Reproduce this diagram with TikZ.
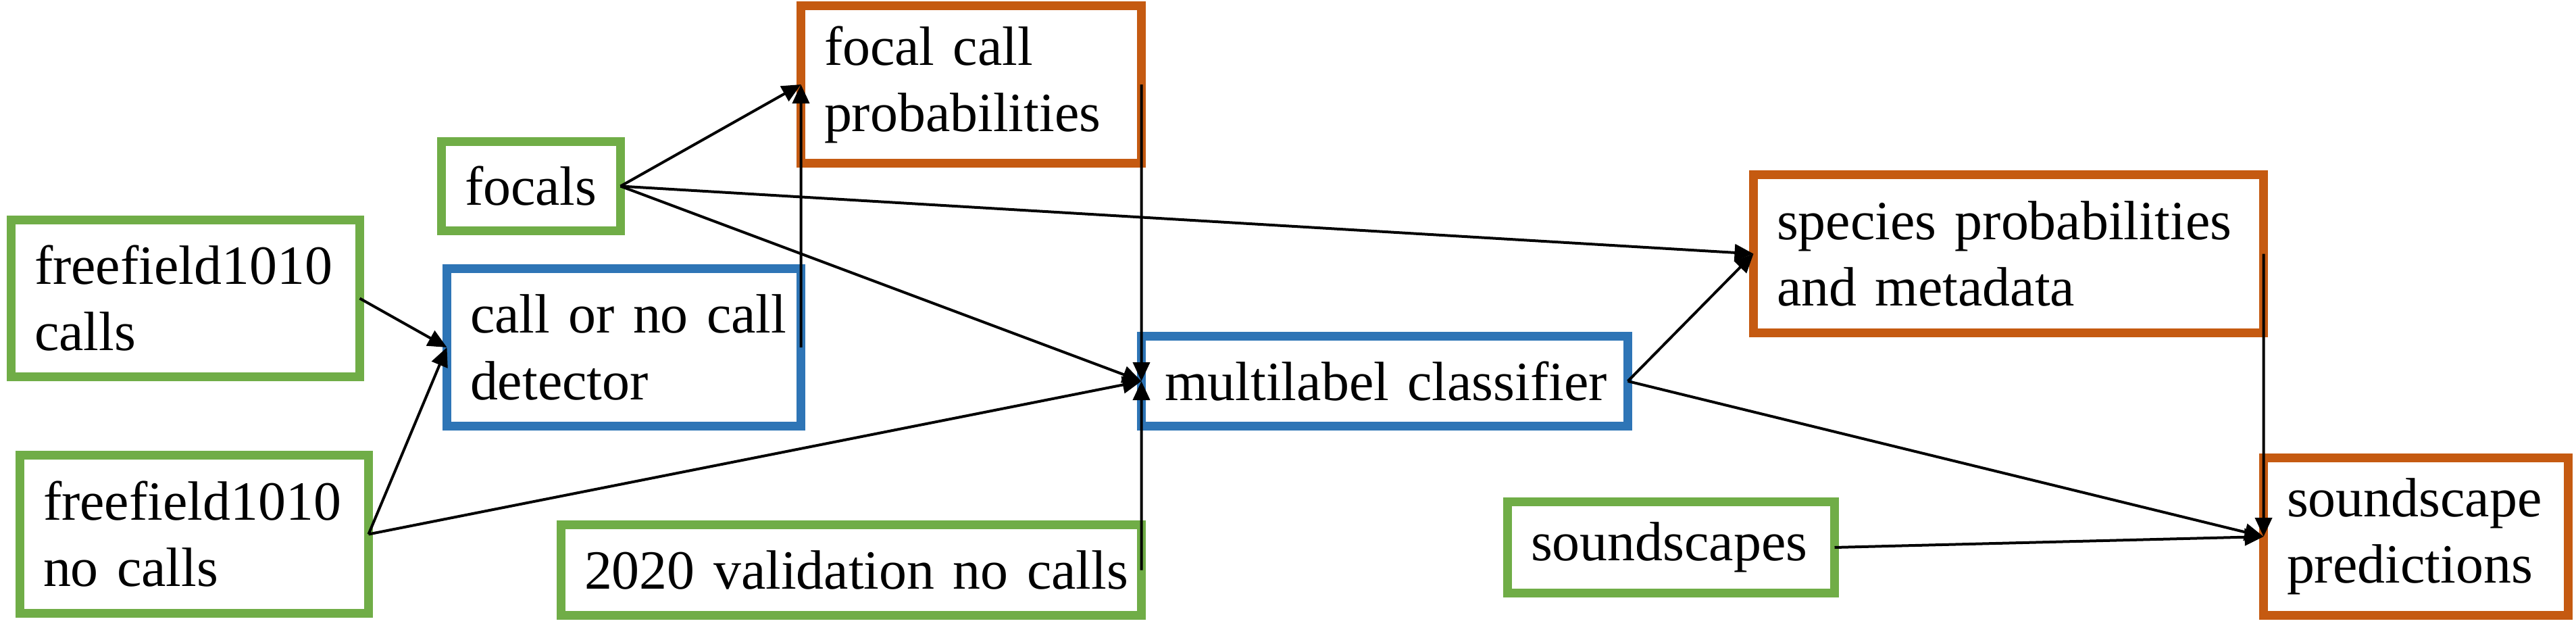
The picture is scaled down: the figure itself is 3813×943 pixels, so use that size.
\documentclass[tikz,border=0pt]{standalone}
\usepackage{fontspec}
\setmainfont{Liberation Serif}
\usetikzlibrary{arrows.meta}
\definecolor{boxgreen}{HTML}{70AD47}
\definecolor{boxblue}{HTML}{2E75B6}
\definecolor{boxorange}{HTML}{C55A11}
\begin{document}
\begin{tikzpicture}[x=0.1mm,y=-0.1mm,
  box/.style={draw, rectangle, line width=1.3mm, outer sep=0pt, inner xsep=3.45mm, inner ysep=0pt,
    align=left, font=\fontsize{23.3}{27.9}\selectfont},
  gbox/.style={box, draw=boxgreen},
  bbox/.style={box, draw=boxblue},
  obox/.style={box, draw=boxorange},
  arr/.style={line width=0.4mm, -{Triangle[length=2.8mm,width=2.5mm]}}]
\useasboundingbox (0,0) rectangle (3813,943);
\node[gbox, text width=44.7mm, minimum height=23.2mm] (ffcalls) at (274.5,441.5) {\mbox{freefield1010}\\calls};
\node[gbox, text width=44.7mm, minimum height=23.4mm] (ffnocalls) at (287.5,790.5) {\mbox{freefield1010}\\no calls};
\node[gbox, text width=19.6mm, minimum height=13.2mm] (focals) at (786,275.5) {focals};
\node[bbox, text width=45.5mm, minimum height=23.3mm] (det) at (923.5,514) {\mbox{call or no call}\\detector};
\node[obox, text width=43.5mm, minimum height=23.3mm] (fcp) at (1437.5,125) {focal call\\probabilities};
\node[gbox, text width=79.0mm, minimum height=13.4mm] (val) at (1260,843.5) {\mbox{2020 validation no calls}};
\node[bbox, text width=65.1mm, minimum height=13.3mm] (mlc) at (2049.5,564) {\mbox{multilabel classifier}};
\node[obox, text width=68.6mm, minimum height=23.4mm] (species) at (2973,375.5) {\mbox{species probabilities}\\and metadata};
\node[gbox, text width=41.5mm, minimum height=13.5mm] (sounds) at (2473.5,810) {soundscapes};
\node[obox, text width=38.2mm, minimum height=23.3mm] (preds) at (3576,794) {\mbox{soundscape}\\predictions};
\draw[arr] (ffcalls.east) -- (det.west);
\draw[arr] (ffnocalls.east) -- (det.west);
\draw[arr] (ffnocalls.east) -- (mlc.west);
\draw[arr] (focals.east) -- (fcp.west);
\draw[arr] (focals.east) -- (mlc.west);
\draw[arr] (focals.east) -- (species.west);
\draw[arr] (det.east) -- (fcp.west);
\draw[arr] (fcp.east) -- (mlc.west);
\draw[arr] (val.east) -- (mlc.west);
\draw[arr] (mlc.east) -- (species.west);
\draw[arr] (mlc.east) -- (preds.west);
\draw[arr] (sounds.east) -- (preds.west);
\draw[arr] (species.east) -- (preds.west);
\end{tikzpicture}
\end{document}
